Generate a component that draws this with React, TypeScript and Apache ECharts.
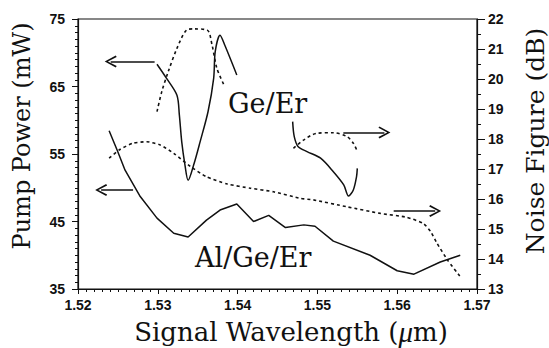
import React, { useEffect, useRef } from "react";
import * as echarts from "echarts";

// Ge/Er pump power (left axis, mW)
const geErPump: [number, number][] = [
  [1.5299, 68.3], [1.5311, 66.2], [1.5324, 63.7], [1.5327, 60.8], [1.533, 56.8],
  [1.5334, 53.4], [1.5338, 51.1], [1.5345, 53.4], [1.5353, 56.8], [1.5363, 61.3],
  [1.537, 66.2], [1.5372, 70.2], [1.5378, 72.6], [1.5384, 71.1], [1.5399, 66.7],
];
// Ge/Er dotted (right axis, dB)
const geErUpper: [number, number][] = [
  [1.5299, 18.91], [1.5305, 19.58], [1.5313, 20.24], [1.5324, 21.02], [1.5336, 21.63],
  [1.5345, 21.67], [1.5362, 21.63], [1.5368, 21.13], [1.5374, 20.36], [1.5384, 19.74],
];
// Ge/Er noise figure, small solid (right axis)
const geErNoiseSolid: [number, number][] = [
  [1.5469, 18.58], [1.5471, 18.08], [1.5476, 17.74], [1.5487, 17.58], [1.5504, 17.36],
  [1.552, 16.91], [1.5533, 16.47], [1.5539, 16.1], [1.5545, 16.3], [1.5549, 16.74], [1.555, 17.02],
];
// Ge/Er noise figure, small dotted (right axis)
const geErNoiseDotted: [number, number][] = [
  [1.547, 17.69], [1.5483, 17.97], [1.5499, 18.19], [1.552, 18.21], [1.5537, 18.08],
  [1.5545, 17.86], [1.555, 17.58],
];
// Al/Ge/Er pump power (left axis)
const alPump: [number, number][] = [
  [1.5239, 58.45], [1.5249, 55.6], [1.5259, 52.6], [1.5278, 48.7], [1.5299, 45.5],
  [1.532, 43.25], [1.5338, 42.7], [1.5361, 45.2], [1.5378, 46.7], [1.5399, 47.6],
  [1.542, 45.0], [1.5439, 45.9], [1.546, 44.1], [1.5483, 44.5], [1.5497, 44.3],
  [1.552, 42.1], [1.5566, 40.0], [1.56, 37.7], [1.5621, 37.2], [1.5654, 39.0], [1.5679, 40.0],
];
// Al/Ge/Er noise figure (right axis)
const alNoise: [number, number][] = [
  [1.5239, 17.36], [1.5253, 17.66], [1.5269, 17.86], [1.5286, 17.91], [1.5303, 17.8],
  [1.532, 17.52], [1.5341, 17.08], [1.5361, 16.74], [1.5387, 16.5], [1.5416, 16.36],
  [1.5445, 16.24], [1.5479, 16.02], [1.5495, 15.97], [1.5537, 15.74], [1.5579, 15.52],
  [1.5612, 15.39], [1.5633, 15.18], [1.5642, 14.91], [1.565, 14.52], [1.5663, 13.97], [1.5679, 13.41],
];
// Arrows: [x1, y1, x2, y2] (arrowhead at second point)
const leftArrows: [number, number, number, number][] = [
  [1.5296, 68.7, 1.5241, 68.7],
  [1.5269, 49.67, 1.5229, 49.67],
];
const rightArrows: [number, number, number, number][] = [
  [1.55325, 18.22, 1.5584, 18.22],
  [1.55956, 15.6, 1.56476, 15.6],
];

const xMin = 1.52, xMax = 1.57, xStep = 0.01;
const leftMin = 35, leftMax = 75, leftStep = 10;
const rightMin = 13, rightMax = 22, rightStep = 1;

const INK = "#111";
const SERIF = "'DejaVu Serif'";
const CHEVRON = "path://M5,0 L10,11 L8.8,12 L5,3.2 L1.2,12 L0,11 Z";

export default function App() {
  const ref = useRef<HTMLDivElement>(null);
  useEffect(() => {
    if (!ref.current) return;
    const chart = echarts.init(ref.current, undefined, { renderer: "svg" });
    const tickFont = { fontFamily: "Liberation Sans", fontWeight: "bold" as const, fontSize: 14, color: INK };
    const solid = { color: INK, width: 1.5, type: "solid" as const };
    const dotted = { color: INK, width: 1.6, type: [3, 3] as any };
    const mkLine = (data: [number, number][], y: number, style: any, smooth: number | boolean) => ({
      type: "line" as const,
      data,
      yAxisIndex: y,
      showSymbol: false,
      symbol: "none",
      smooth,
      lineStyle: style,
      itemStyle: { color: INK },
      silent: true,
    });
    const mkArrows = (arr: [number, number, number, number][], y: number) => ({
      type: "lines" as const,
      coordinateSystem: "cartesian2d",
      xAxisIndex: 0,
      yAxisIndex: y,
      symbol: ["none", CHEVRON],
      symbolSize: [10, 12],
      lineStyle: { color: INK, width: 1.5, opacity: 1, curveness: 0 },
      itemStyle: { color: INK },
      data: arr.map((a) => ({ coords: [[a[0], a[1]], [a[2], a[3]]] })),
      silent: true,
    });
    chart.setOption({
      animation: false,
      backgroundColor: "#fff",
      grid: { left: 78, right: 72, top: 19, bottom: 59, show: true, borderColor: INK, borderWidth: 1.2 },
      xAxis: {
        type: "value",
        min: xMin,
        max: xMax,
        interval: xStep,
        axisLine: { show: true, lineStyle: { color: INK, width: 1.2 } },
        axisTick: { show: true, length: 5, lineStyle: { color: INK } },
        minorTick: { show: true, splitNumber: 10, length: 3, lineStyle: { color: INK } },
        splitLine: { show: false },
        axisLabel: { ...tickFont, margin: 9, formatter: (v: number) => v.toFixed(2) },
      },
      yAxis: [
        {
          type: "value",
          min: leftMin,
          max: leftMax,
          interval: leftStep,
          position: "left",
          axisLine: { show: true, lineStyle: { color: INK, width: 1.2 } },
          axisTick: { show: true, length: 6, lineStyle: { color: INK } },
          minorTick: { show: true, splitNumber: 10, length: 3, lineStyle: { color: INK } },
          splitLine: { show: false },
          axisLabel: { ...tickFont, margin: 13 },
        },
        {
          type: "value",
          min: rightMin,
          max: rightMax,
          interval: rightStep,
          position: "right",
          axisLine: { show: true, lineStyle: { color: INK, width: 1.2 } },
          axisTick: { show: true, length: 8, lineStyle: { color: INK } },
          minorTick: { show: true, splitNumber: 2, length: 4, lineStyle: { color: INK } },
          splitLine: { show: false },
          axisLabel: { ...tickFont, margin: 11 },
        },
      ],
      series: [
        mkLine(geErPump, 0, solid, 0.3),
        mkLine(geErUpper, 1, dotted, 0.3),
        mkLine(geErNoiseSolid, 1, solid, 0.3),
        mkLine(geErNoiseDotted, 1, dotted, 0.3),
        mkLine(alPump, 0, solid, false),
        mkLine(alNoise, 1, dotted, 0.2),
        mkArrows(leftArrows, 0),
        mkArrows(rightArrows, 1),
      ],
      graphic: [
        {
          type: "text",
          x: 22,
          y: 136,
          rotation: Math.PI / 2,
          style: { text: "Pump Power (mW)", font: `24px ${SERIF}`, fill: INK, align: "center", verticalAlign: "middle" },
        },
        {
          type: "text",
          x: 535,
          y: 141,
          rotation: Math.PI / 2,
          style: { text: "Noise Figure (dB)", font: `25px ${SERIF}`, fill: INK, align: "center", verticalAlign: "middle" },
        },
        {
          type: "text",
          x: 291,
          y: 332,
          style: {
            text: "{a|Signal Wavelength (}{b|μ}{a|m)}",
            align: "center",
            verticalAlign: "middle",
            rich: {
              a: { fontFamily: "DejaVu Serif", fontSize: 26, fill: INK, color: INK },
              b: { fontFamily: "Liberation Serif", fontStyle: "italic", fontSize: 29, fill: INK, color: INK },
            },
          },
        },
        {
          type: "text",
          x: 228,
          y: 103,
          style: { text: "Ge/Er", font: `27px ${SERIF}`, fill: INK, align: "left", verticalAlign: "middle" },
        },
        {
          type: "text",
          x: 195,
          y: 257,
          style: { text: "Al/Ge/Er", font: `27px ${SERIF}`, fill: INK, align: "left", verticalAlign: "middle" },
        },
      ],
    });
    return () => chart.dispose();
  }, []);
  return (
    <div
      ref={ref}
      style={{ position: "fixed", left: 0, top: 0, width: 549, height: 348, background: "#fff" }}
    />
  );
}
